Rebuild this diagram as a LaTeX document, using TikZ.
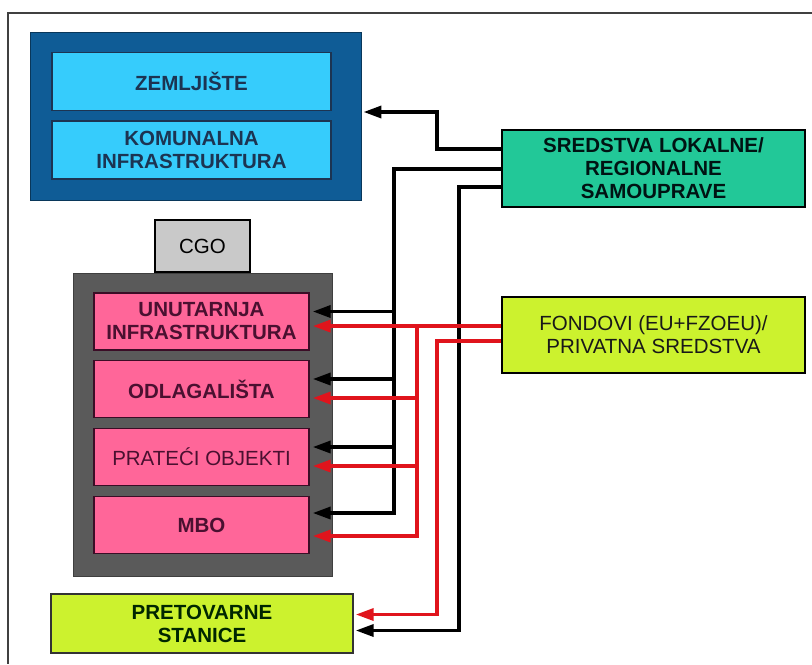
\documentclass[tikz,border=0pt]{standalone}
\usepackage{fontspec}
\setmainfont{Liberation Sans}
\usetikzlibrary{arrows.meta,calc}
\definecolor{bluebg}{HTML}{0F5C96}
\definecolor{cyanbox}{HTML}{36CCFC}
\definecolor{navytext}{HTML}{1C3452}
\definecolor{greybg}{HTML}{5A5A5A}
\definecolor{pinkbox}{HTML}{FF6699}
\definecolor{pinktext}{HTML}{4A1030}
\definecolor{tealbox}{HTML}{22C898}
\definecolor{limebox}{HTML}{CCF22E}
\definecolor{cgobox}{HTML}{C9C9C9}
\definecolor{redline}{HTML}{E0141C}
\tikzset{
    box/.style={draw, inner sep=0pt, align=center, font=\fontsize{17.5}{19.6}\selectfont\bfseries},
    plainbox/.style={box, font=\fontsize{17.5}{19.6}\selectfont},
    landbox/.style={box, fill=cyanbox, draw=navytext, line width=1.2pt, text=navytext,
        minimum width=8.37cm, minimum height=1.75cm},
    cgobox/.style={box, fill=pinkbox, draw=pinktext!80!black, line width=1.2pt, text=pinktext,
        minimum width=6.45cm, minimum height=1.71cm},
    srcbox/.style={box, line width=1.6pt, minimum width=9.09cm, minimum height=2.3cm},
    blk/.style={line width=3pt, -{Triangle[length=5.4mm,width=3.6mm]}},
    rdl/.style={blk, draw=redline, color=redline},
}
\begin{document}
\begin{tikzpicture}[x=0.03cm, y=-0.03cm]
    \useasboundingbox (0, 0) rectangle (812, 664);
    \draw[line width=0.9pt, black!75] (812, 13) to (8, 13) to (8, 664);

    % land and utilities
    \node[box, fill=bluebg, draw=bluebg!60!black, line width=0.8pt,
        minimum width=9.93cm, minimum height=5.04cm] (blue) at (195.5, 116) {};
    \node[landbox] (zem) at (191.5, 81.5) {ZEMLJIŠTE};
    \node[landbox] (kom) at (191.5, 150) {KOMUNALNA\\INFRASTRUKTURA};

    % waste management centre
    \node[plainbox, fill=cgobox, line width=1.6pt, minimum width=2.85cm, minimum height=1.56cm]
        (cgo) at (202.5, 246) {CGO};
    \node[box, fill=greybg, draw=greybg!70!black, line width=0.8pt,
        minimum width=7.77cm, minimum height=9.09cm] (grey) at (202.5, 424.5) {};
    \node[cgobox] (unut) at (201.5, 321.5) {UNUTARNJA\\INFRASTRUKTURA};
    \node[cgobox] (odl) at (201.5, 389) {ODLAGALIŠTA};
    \node[cgobox, font=\fontsize{17.5}{19.6}\selectfont] (prat) at (201.5, 457) {PRATEĆI OBJEKTI};
    \node[cgobox] (mbo) at (201.5, 525) {MBO};

    \node[box, fill=limebox, draw=black!80, line width=1.2pt, text=black!85!green,
        minimum width=9.06cm, minimum height=1.77cm] (pret) at (202, 623.5) {PRETOVARNE\\STANICE};

    % sources of funding
    \node[srcbox, fill=tealbox, text=black!85!teal] (sred) at (653.5, 168.5)
        {SREDSTVA LOKALNE/\\REGIONALNE\\SAMOUPRAVE};
    \node[srcbox, plainbox, fill=limebox, line width=1.6pt, minimum width=9.09cm,
        minimum height=2.28cm, text=black!90] (fond) at (653.5, 335)
        {FONDOVI (EU+FZOEU)/\\PRIVATNA SREDSTVA};

    % black connectors
    \coordinate (ta) at ($(sred.north west)+(-107, 0)$);
    \draw[blk] ($(sred.north west)+(0, 20)$) -- ++(-64, 0) |- ($(blue.east)+(2, -4)$);
    \draw[blk] ($(sred.north west)+(0, 40)$) -| ($(ta |- mbo.east)+(0, -12)$)
        -- ($(mbo.east)+(3, -12)$);
    \foreach \n in {unut, odl, prat}
        \draw[blk] ($(ta |- \n.east)+(0, -10)$) -- ($(\n.east)+(3, -10)$);
    \draw[blk] ($(sred.north west)+(0, 58)$) -- ++(-42, 0) |- ($(pret.east)+(2, 7)$);

    % red connectors
    \coordinate (rs) at ($(fond.north west)+(0, 30)$);
    \coordinate (ra) at ($(fond.north west)+(-84, 0)$);
    \draw[rdl] (rs) -- ($(rs -| unut.east)+(3, 0)$);
    \draw[rdl] (ra |- rs) |- ($(mbo.east)+(3, 11)$);
    \foreach \n in {odl, prat}
        \draw[rdl] ($(ra |- \n.east)+(0, 9)$) -- ($(\n.east)+(3, 9)$);
    \draw[rdl] ($(fond.north west)+(0, 45)$) -- ++(-64, 0) |- ($(pret.east)+(2, -9)$);
\end{tikzpicture}
\end{document}
